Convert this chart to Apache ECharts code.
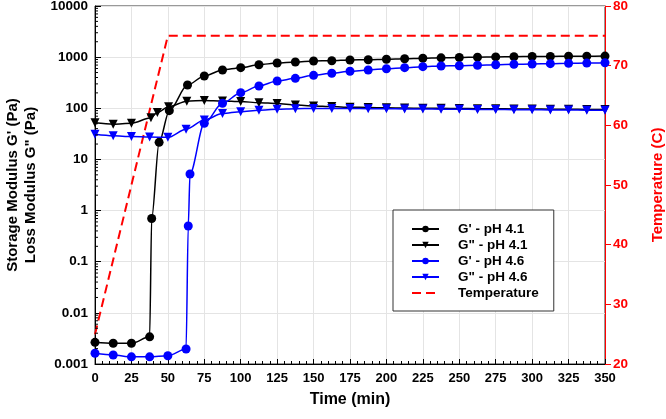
<!DOCTYPE html>
<html><head><meta charset="utf-8">
<script src="https://cdn.jsdelivr.net/npm/echarts@6/dist/echarts.min.js"></script>
<style>html,body{margin:0;padding:0;background:#fff}#c{width:666px;height:419px}</style>
</head><body><div id="c"></div>
<script>
// Time points (min) and values
var tGp41 = [0,12.5,25,37.5,38.9,44,51,63.5,75,87.5,100,112.5,125,137.5,150,162.5,175,187.5,200,212.5,225,237.5,250,262.5,275,287.5,300,312.5,325,337.5,350];
var Gp41  = [0.00265,0.00254,0.00254,0.0034,0.70,21.6,90,285,428,561,622,711,767,803,842,852,879,890,910,930,950,970,985,1000,1010,1020,1030,1035,1040,1045,1050];

var tGpp41 = [0,12.5,25,38.4,42.8,50.5,63,75,87.5,100,112.5,125,137.5,150,162.5,175,187.5,200,212.5,225,237.5,250,262.5,275,287.5,300,312.5,325,337.5,350];
var Gpp41  = [52,49,51,65,83,107,138,142,139,135,129,124,116,111,108,105,104,102,101,100,100,99,98,98,97,97,96,96,95,95];

var tGp46 = [0,12.5,25,37.5,50,62.5,64,65.2,75,87.5,100,112.5,125,137.5,150,162.5,175,187.5,200,212.5,225,237.5,250,262.5,275,287.5,300,312.5,325,337.5,350];
var Gp46  = [0.00162,0.0015,0.00138,0.00138,0.00145,0.00196,0.50,5.2,51,125,202,273,341,385,441,483,529,561,594,622,651,671,680,693,711,724,734,745,759,765,778];

var tGpp46 = [0,12.5,25,37.5,50,62.5,75,87.5,100,112.5,125,137.5,150,162.5,175,187.5,200,212.5,225,237.5,250,262.5,275,287.5,300,312.5,325,337.5,350];
var Gpp46  = [31,29,28,27.5,27,39,59,79,86,92,96,98,99,99,99,98,98,97,97,96,96,95,95,94,94,93,93,92,92];

var tTemp = [0,50,350];
var Temp  = [25,75,75];

var yTickLabels = ['0.001','0.01','0.1','1','10','100','1000','10000'];
var seriesNames = ["G' - pH 4.1", 'G" - pH 4.1', "G' - pH 4.6", 'G" - pH 4.6', 'Temperature'];

// log-spaced minor tick positions on the modulus axis (axis decoration)
var minorLogTicks = [];
for (var k = -3; k <= 3; k++) { for (var m = 2; m <= 9; m++) { minorLogTicks.push([0, m * Math.pow(10, k)]); } }

function zip(t, v) { return t.map(function (x, i) { return [x, v[i]]; }); }

var chart = echarts.init(document.getElementById('c'), null, {renderer: 'canvas'});
var bold = {fontFamily: 'Liberation Sans, Arial, sans-serif', fontWeight: 'bold'};

chart.setOption({
  animation: false,
  backgroundColor: '#fff',
  grid: {left: 95, right: 61, top: 6, bottom: 55, containLabel: false, outerBoundsMode: 'none',
    show: true, borderColor: '#333', borderWidth: 1, backgroundColor: 'transparent'},
  legend: {
    orient: 'vertical', left: 393, top: 210,
    padding: [11, 15, 10, 18],
    itemWidth: 27, itemHeight: 8, itemGap: 0,
    borderColor: '#333', borderWidth: 1,
    backgroundColor: '#fff',
    data: seriesNames.slice(0, 4).concat([{name: 'Temperature', itemStyle: {opacity: 0}}]),
    textStyle: Object.assign({fontSize: 13.5, color: '#000', lineHeight: 16, padding: [0, 0, 0, 14]}, bold)
  },
  xAxis: {
    type: 'value', min: 0, max: 350, interval: 25,
    axisLine: {lineStyle: {color: '#000', width: 1}},
    axisTick: {inside: true, length: 5, lineStyle: {color: '#000'}},
    minorTick: {show: true, splitNumber: 5, length: 3, lineStyle: {color: '#000'}},
    splitLine: {show: true, lineStyle: {color: '#e4e4e4', width: 1}},
    axisLabel: Object.assign({fontSize: 13, color: '#000', margin: 8}, bold),
    name: 'Time (min)', nameLocation: 'middle', nameGap: 28,
    nameTextStyle: Object.assign({fontSize: 16, color: '#000'}, bold)
  },
  yAxis: [{
    type: 'log', logBase: 10, min: 0.001, max: 10000,
    axisLine: {show: true, lineStyle: {color: '#000', width: 1}},
    axisTick: {inside: true, length: 6, lineStyle: {color: '#000'}},
    splitLine: {show: true, lineStyle: {color: '#e4e4e4', width: 1}},
    axisLabel: Object.assign({fontSize: 13.5, color: '#000', margin: 7,
      formatter: function (v) { return yTickLabels[Math.round(Math.log10(v)) + 3]; }}, bold),
    name: "Storage Modulus G' (Pa)\nLoss Modulus G\" (Pa)", nameLocation: 'middle', nameGap: 54, nameRotate: 90,
    nameTextStyle: Object.assign({fontSize: 15, color: '#000', lineHeight: 18}, bold)
  }, {
    type: 'value', min: 20, max: 80, interval: 10, position: 'right',
    axisLine: {show: true, lineStyle: {color: '#ff0000', width: 1}},
    axisTick: {show: true, inside: false, length: 6, lineStyle: {color: '#ff0000'}},
    splitLine: {show: false},
    axisLabel: Object.assign({fontSize: 13.5, color: '#ff0000', margin: 8}, bold),
    name: 'Temperature (C)', nameLocation: 'middle', nameGap: 45, nameRotate: 90,
    nameTextStyle: Object.assign({fontSize: 15, color: '#ff0000'}, bold)
  }],
  series: [
    {name: seriesNames[0], type: 'line', data: zip(tGp41, Gp41), smooth: 0.3, smoothMonotone: 'x',
      symbol: 'circle', symbolSize: 9, itemStyle: {color: '#000'}, lineStyle: {color: '#000', width: 1.5}, z: 4},
    {name: seriesNames[1], type: 'line', data: zip(tGpp41, Gpp41), smooth: 0.3, smoothMonotone: 'x',
      symbol: 'triangle', symbolRotate: 180, symbolSize: 9, itemStyle: {color: '#000'}, lineStyle: {color: '#000', width: 1.5}, z: 3},
    {name: seriesNames[2], type: 'line', data: zip(tGp46, Gp46), smooth: 0.3, smoothMonotone: 'x',
      symbol: 'circle', symbolSize: 9, itemStyle: {color: '#0000ff'}, lineStyle: {color: '#0000ff', width: 1.5}, z: 5},
    {name: seriesNames[3], type: 'line', data: zip(tGpp46, Gpp46), smooth: 0.3, smoothMonotone: 'x',
      symbol: 'triangle', symbolRotate: 180, symbolSize: 9, itemStyle: {color: '#0000ff'}, lineStyle: {color: '#0000ff', width: 1.5}, z: 5},
    {name: seriesNames[4], type: 'line', yAxisIndex: 1, data: zip(tTemp, Temp), showSymbol: false, symbol: 'none', symbolSize: 0,
      itemStyle: {color: '#ff0000'}, lineStyle: {color: '#ff0000', width: 2, type: [9, 5]}, z: 2},
    {type: 'custom', yAxisIndex: 0, silent: true, clip: false, data: minorLogTicks, z: 6,
      renderItem: function (params, api) {
        var p = api.coord([api.value(0), api.value(1)]);
        return {type: 'line', shape: {x1: p[0], y1: p[1], x2: p[0] + 3, y2: p[1]}, style: {stroke: '#000', lineWidth: 1}};
      }}
  ]
});
</script></body></html>
